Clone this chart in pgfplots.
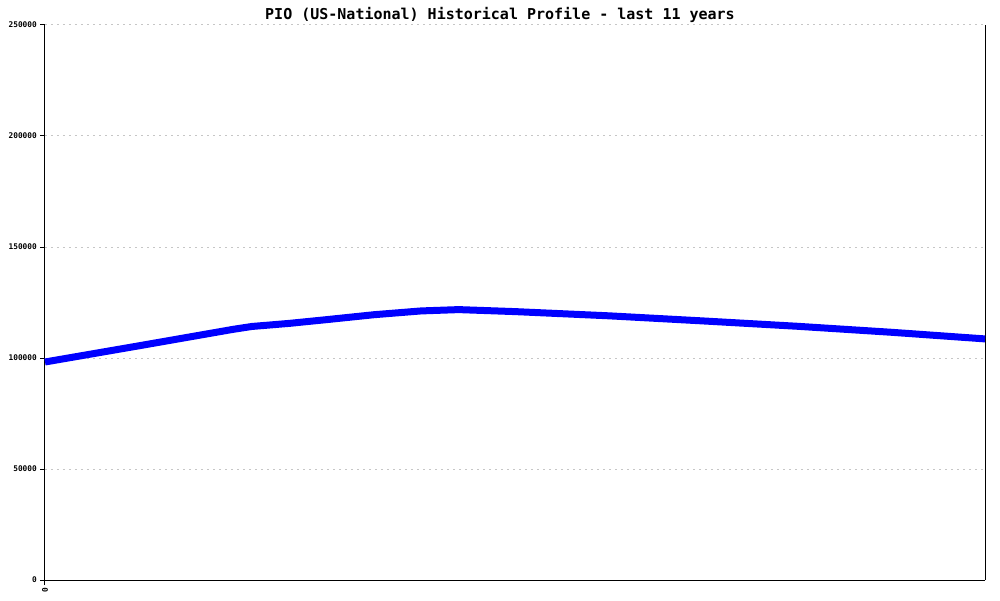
\documentclass[border=0pt]{standalone}
\usepackage{fontspec}
\setmainfont{DejaVu Sans Mono}
\usepackage{pgfplots}
\pgfplotsset{compat=1.18}
\begin{document}
\begin{tikzpicture}[x=1pt,y=1pt]
\useasboundingbox (-45,-20) rectangle (955,580);
\begin{axis}[
  at={(0,0)}, anchor=south west,
  scale only axis, width=940pt, height=555pt,
  xmin=0, xmax=10, ymin=0, ymax=250000,
  axis x line*=bottom,
  axis y line*=box,
  axis line style={black, line width=1pt},
  xtick={0}, xticklabels={0},
  x tick label style={rotate=90, anchor=east, font=\bfseries\fontsize{7.8}{7.8}\selectfont, inner sep=3pt},
  ytick={0,50000,100000,150000,200000,250000},
  ytick pos=left, xtick pos=bottom,
  tick align=outside, major tick length=5pt,
  tick style={black, line width=1pt},
  scaled y ticks=false,
  /pgf/number format/assume math mode=true,
  yticklabel={\pgfmathprintnumber[fixed,precision=0,1000 sep={}]{\tick}},
  y tick label style={font=\bfseries\fontsize{7.8}{7.8}\selectfont, inner sep=3pt},
  ymajorgrids,
  major grid style={gray!45, line width=1pt, dash pattern=on 2pt off 4pt},
  title={PIO (US-National) Historical Profile - last 11 years},
  title style={font=\bfseries\fontsize{15}{15}\selectfont, yshift=-7pt, xshift=-15pt},
  clip=false,
]
\addplot[blue, line width=7pt, line join=round] coordinates {
(0,98200) (1,105500) (2,112900) (2.2,114200) (2.6,115600) (3,117300) (3.5,119500) (4,121200) (4.4,121800) (5,120900)
(6,119000) (7,116700) (8,114300) (9,111600) (10,108600)
};
\end{axis}
\end{tikzpicture}
\end{document}
